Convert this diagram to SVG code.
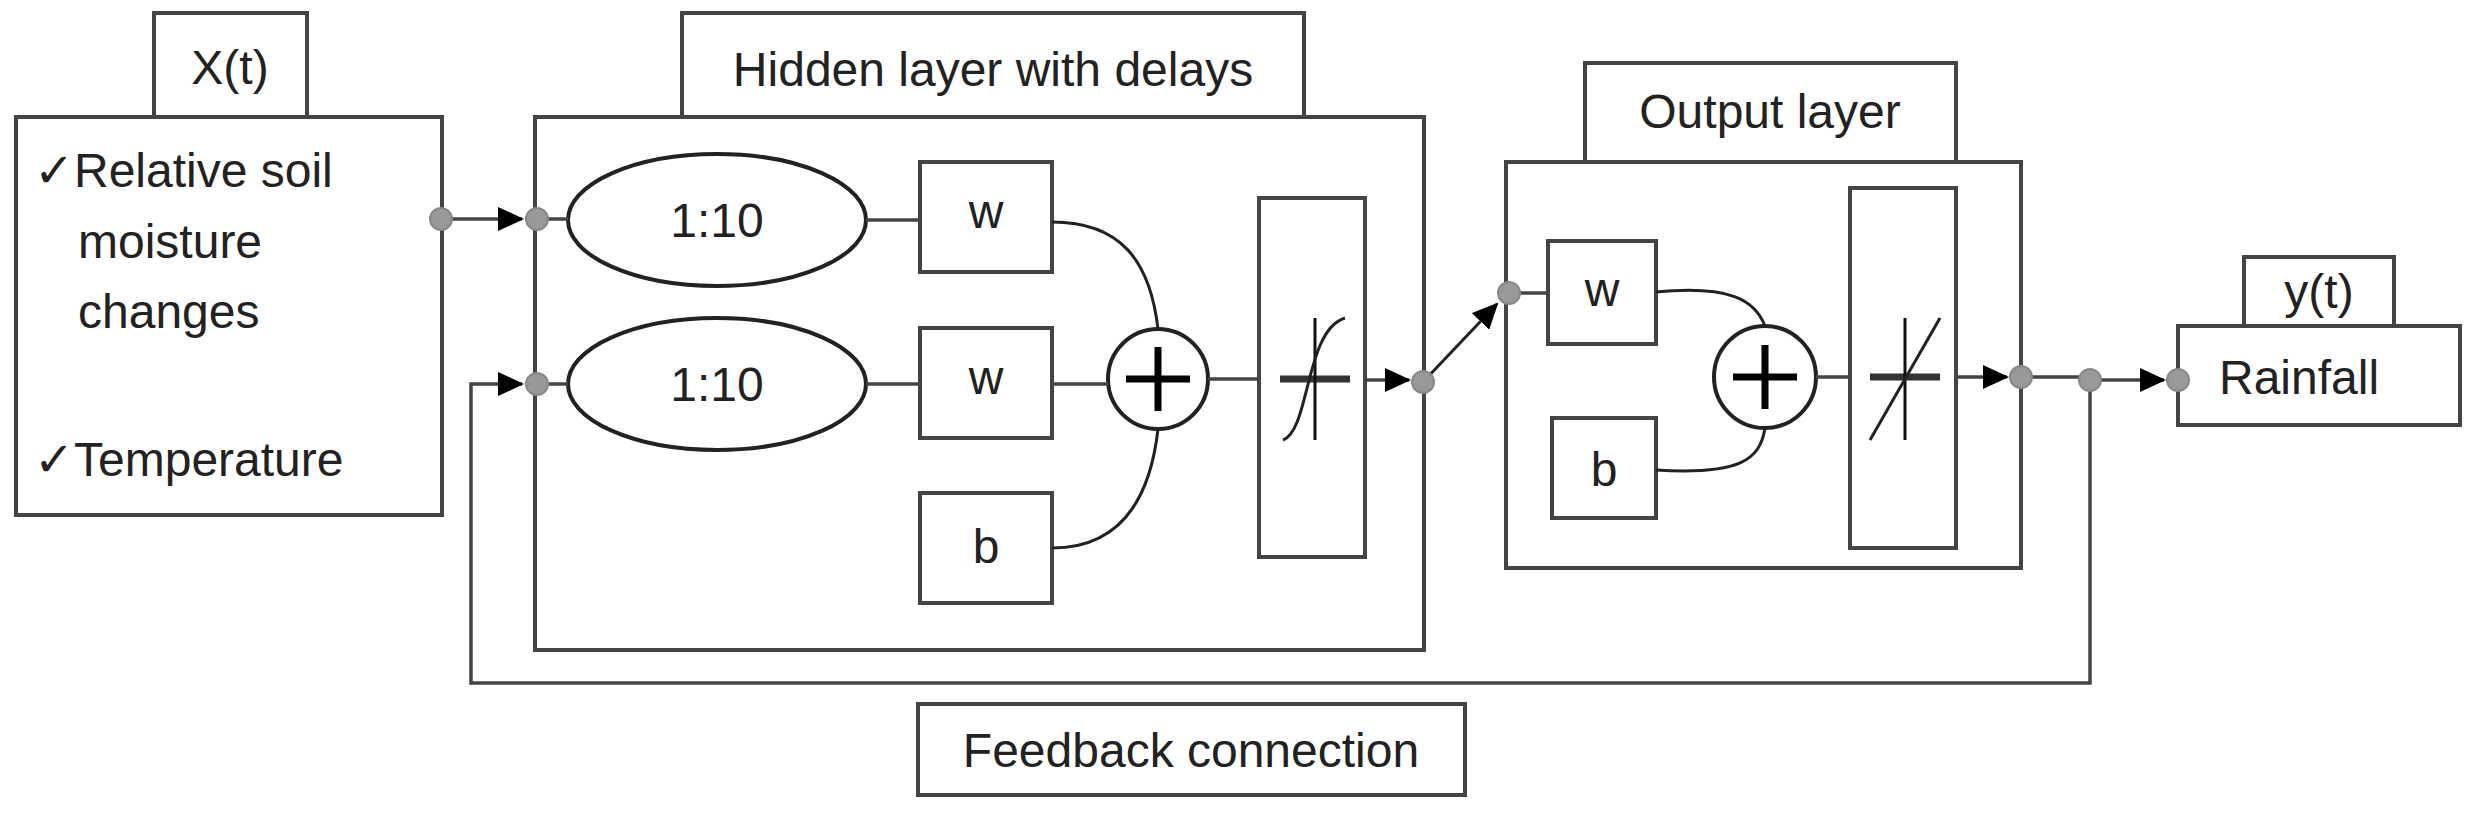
<svg xmlns="http://www.w3.org/2000/svg" width="2469" height="815" viewBox="0 0 2469 815">
<defs>
<marker id="ah" markerWidth="26" markerHeight="24" refX="24" refY="12" orient="auto" markerUnits="userSpaceOnUse" viewBox="0 0 26 24"><path d="M0,0 L26,12 L0,24 z" fill="#000"/></marker>
<style>
.b{fill:#fff;stroke:#444;stroke-width:4}
.l{fill:none;stroke:#444;stroke-width:3.5}
.c{fill:none;stroke:#222;stroke-width:3}
.e{fill:#fff;stroke:#222;stroke-width:4}
.t{font-family:"Liberation Sans",Arial,sans-serif;font-size:48px;fill:#222}
.m{text-anchor:middle}
.d{fill:#999;stroke:#888;stroke-width:2}
.p{stroke:#000;stroke-width:7;fill:none}
</style>
</defs>
<rect width="2469" height="815" fill="#fff"/>
<g id="input">
<rect class="b" x="154" y="13" width="153" height="104"/>
<text class="t m" x="230" y="84">X(t)</text>
<rect class="b" x="16" y="117" width="426" height="398"/>
<text class="t" x="34" y="187">✓Relative soil</text>
<text class="t" x="78" y="258">moisture</text>
<text class="t" x="78" y="328">changes</text>
<text class="t" x="34" y="476">✓Temperature</text>
</g>
<g id="hidden">
<rect class="b" x="682" y="13" width="622" height="104"/>
<text class="t m" x="993" y="86">Hidden layer with delays</text>
<rect class="b" x="535" y="117" width="889" height="533"/>
<ellipse class="e" cx="717" cy="220" rx="149" ry="66"/>
<text class="t m" x="717" y="237">1:10</text>
<ellipse class="e" cx="717" cy="384" rx="149" ry="66"/>
<text class="t m" x="717" y="401">1:10</text>
<rect class="b" x="920" y="162" width="132" height="110"/>
<text class="t m" x="986" y="228">w</text>
<rect class="b" x="920" y="328" width="132" height="110"/>
<text class="t m" x="986" y="394">w</text>
<rect class="b" x="920" y="493" width="132" height="110"/>
<text class="t m" x="986" y="563">b</text>
<circle cx="1158" cy="379" r="50" class="e"/>
<path class="p" d="M1126,379 H1190 M1158,347 V411"/>
<rect class="b" x="1259" y="198" width="106" height="359"/>
<path d="M1280,379 H1350" stroke="#333" stroke-width="7"/>
<path d="M1315,318 V440" stroke="#111" stroke-width="3"/>
<path class="c" d="M1283,440 C1310,430 1305,330 1345,318"/>
</g>
<g id="output">
<rect class="b" x="1585" y="63" width="371" height="99"/>
<text class="t m" x="1770" y="128">Output layer</text>
<rect class="b" x="1506" y="162" width="515" height="406"/>
<rect class="b" x="1548" y="241" width="108" height="103"/>
<text class="t m" x="1602" y="306">w</text>
<rect class="b" x="1552" y="418" width="104" height="100"/>
<text class="t m" x="1604" y="486">b</text>
<circle cx="1765" cy="377" r="51" class="e"/>
<path class="p" d="M1733,377 H1797 M1765,345 V409"/>
<rect class="b" x="1850" y="188" width="106" height="360"/>
<path d="M1870,377 H1940" stroke="#333" stroke-width="7"/>
<path d="M1905,318 V440" stroke="#111" stroke-width="3"/>
<path class="c" d="M1870,440 L1940,318"/>
</g>
<g id="result">
<rect class="b" x="2244" y="257" width="150" height="69"/>
<text class="t m" x="2319" y="308">y(t)</text>
<rect class="b" x="2178" y="326" width="282" height="99"/>
<text class="t" x="2219" y="394">Rainfall</text>
</g>
<g id="feedback-label">
<rect class="b" x="918" y="704" width="547" height="91"/>
<text class="t m" x="1191" y="767">Feedback connection</text>
</g>
<g id="connectors">
<path class="l" d="M441,219 H522" marker-end="url(#ah)"/>
<path class="l" d="M537,219 H568 M537,384 H568 M866,220 H920 M866,384 H920 M1052,384 H1108 M1208,379 H1259"/>
<path class="c" d="M1052,222 C1120,222 1150,260 1158,329"/>
<path class="c" d="M1052,548 C1120,548 1150,500 1158,429"/>
<path class="l" d="M1365,380 H1409" marker-end="url(#ah)"/>
<path class="c" d="M1423,382 L1497,304" marker-end="url(#ah)"/>
<path class="l" d="M1509,293 H1548"/>
<path class="c" d="M1656,292 C1730,285 1755,300 1765,326"/>
<path class="c" d="M1656,470 C1740,475 1760,460 1765,428"/>
<path class="l" d="M1816,377 H1850"/>
<path class="l" d="M1956,377 H2007" marker-end="url(#ah)"/>
<path class="l" d="M2021,377 H2090"/>
<path class="l" d="M2090,380 H2164" marker-end="url(#ah)"/>
<path class="l" d="M2090,380 V683 H471 V384 H522" marker-end="url(#ah)"/>
<circle class="d" cx="441" cy="219" r="11"/>
<circle class="d" cx="537" cy="219" r="11"/>
<circle class="d" cx="537" cy="384" r="11"/>
<circle class="d" cx="1423" cy="382" r="11"/>
<circle class="d" cx="1509" cy="293" r="11"/>
<circle class="d" cx="2021" cy="377" r="11"/>
<circle class="d" cx="2090" cy="380" r="11"/>
<circle class="d" cx="2178" cy="380" r="11"/>
</g>
</svg>
